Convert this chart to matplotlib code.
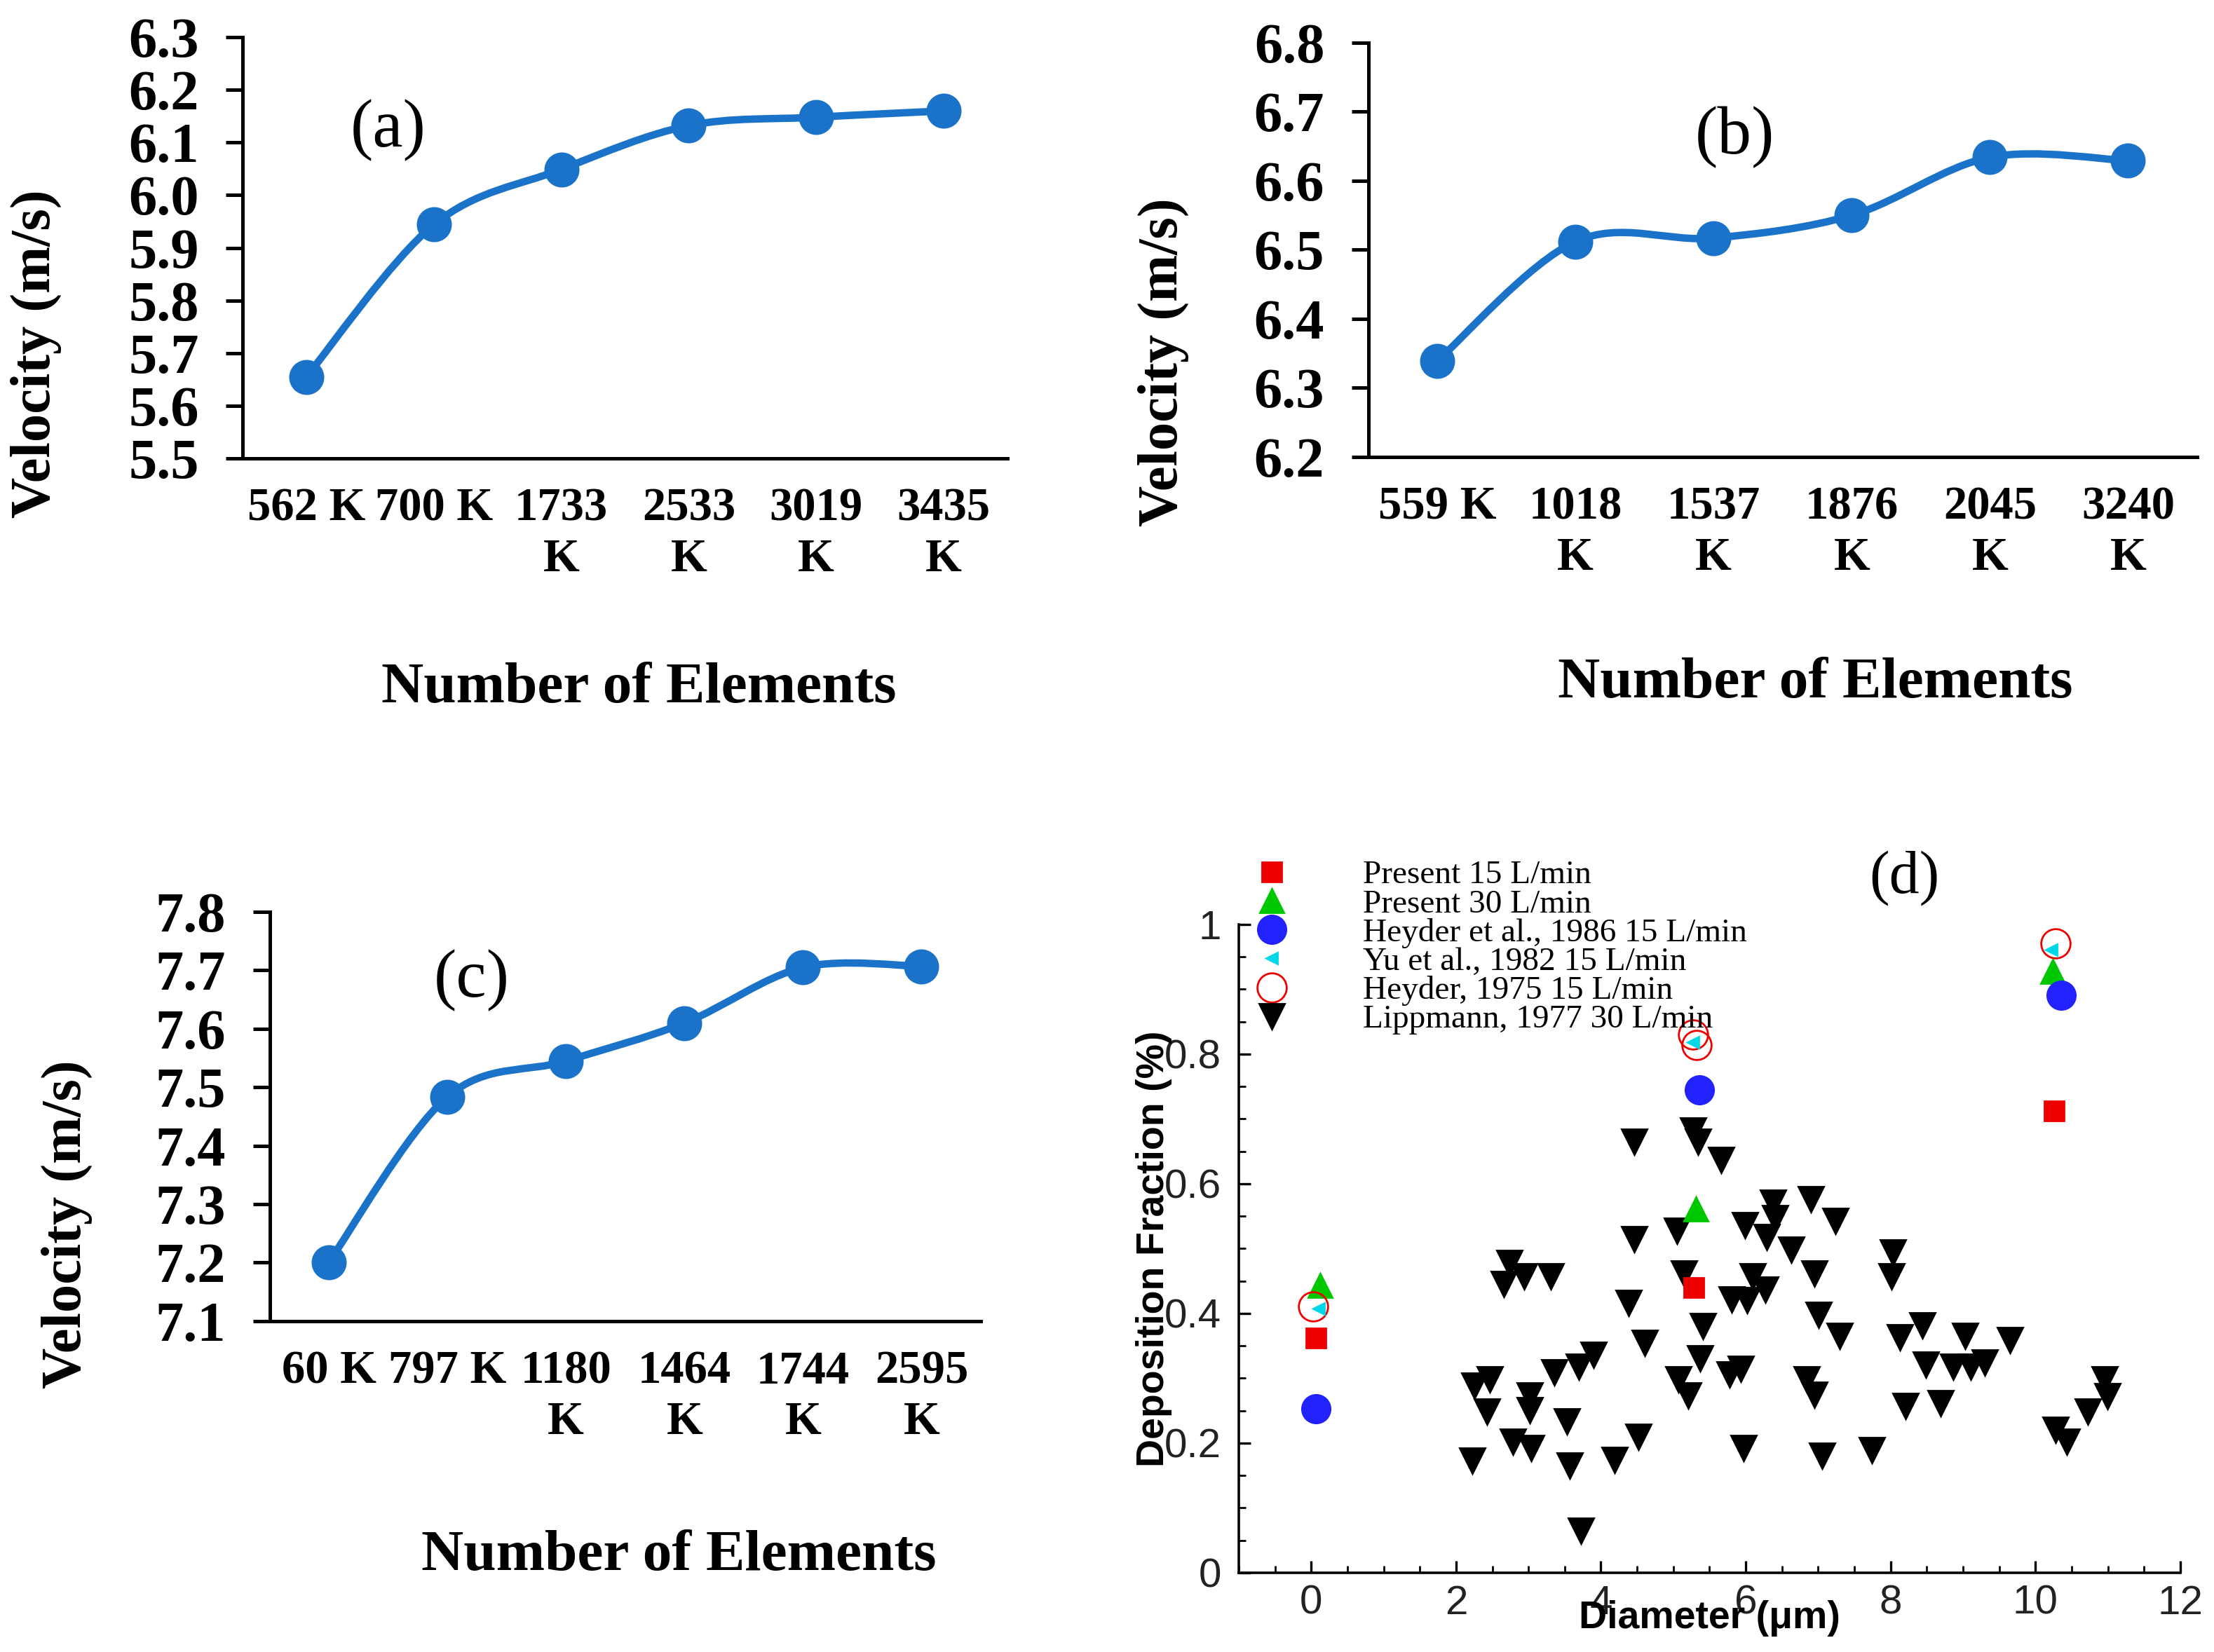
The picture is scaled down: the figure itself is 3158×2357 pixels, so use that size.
import numpy as np
import matplotlib
matplotlib.use('Agg')
import matplotlib.pyplot as plt
from matplotlib.path import Path
from matplotlib.patches import PathPatch
from matplotlib.ticker import MultipleLocator, FormatStrFormatter

# ---------------- data ----------------
labels_a = ['562 K', '700 K', '1733\nK', '2533\nK', '3019\nK', '3435\nK']
vel_a = [5.655, 5.944, 6.049, 6.132, 6.148, 6.160]

labels_b = ['559 K', '1018\nK', '1537\nK', '1876\nK', '2045\nK', '3240\nK']
vel_b = [6.339, 6.512, 6.517, 6.550, 6.634, 6.629]

labels_c = ['60 K', '797 K', '1180\nK', '1464\nK', '1744\nK', '2595\nK']
vel_c = [7.201, 7.484, 7.545, 7.610, 7.705, 7.707]

# panel (d)
present15_x = [0.07, 5.28, 10.26]
present15_y = [0.362, 0.440, 0.712]
present30_x = [0.12, 5.31, 10.24]
present30_y = [0.443, 0.561, 0.928]
heyder86_x = [0.07, 5.36, 10.35]
heyder86_y = [0.253, 0.745, 0.891]
yu82_x = [0.10, 5.27, 10.22]
yu82_y = [0.407, 0.818, 0.961]
heyder75_x = [0.03, 5.27, 5.32, 10.28]
heyder75_y = [0.411, 0.830, 0.814, 0.971]
lipp_x = [2.22, 2.25, 2.47, 2.43, 2.66, 2.74, 2.94, 2.79, 3.02, 3.02, 3.04, 3.31,
          3.36, 3.53, 3.57, 3.70, 3.90, 3.72, 4.19, 4.38, 4.46, 4.46, 4.52, 4.61,
          5.05, 5.07, 5.15, 5.21, 5.27, 5.34, 5.41, 5.37, 5.66, 5.81, 5.78, 5.93,
          5.99, 6.02, 5.97, 6.10, 6.27, 6.29, 6.41, 6.38, 6.63, 6.90, 6.95, 6.84,
          6.95, 7.01, 7.05, 7.24, 7.30, 7.74, 8.03, 8.01, 8.13, 8.21, 8.44, 8.49,
          8.69, 8.86, 9.03, 9.11, 9.30, 9.65, 10.28, 10.43, 10.72, 10.95, 10.99]
lipp_y = [0.173, 0.288, 0.298, 0.249, 0.445, 0.478, 0.457, 0.202, 0.273, 0.251, 0.192, 0.457,
          0.309, 0.233, 0.165, 0.318, 0.336, 0.065, 0.174, 0.416, 0.665, 0.514, 0.210, 0.355,
          0.527, 0.298, 0.461, 0.273, 0.682, 0.665, 0.380, 0.331, 0.637, 0.422, 0.306, 0.314,
          0.536, 0.420, 0.192, 0.457, 0.437, 0.518, 0.547, 0.571, 0.498, 0.576, 0.461, 0.298,
          0.275, 0.398, 0.180, 0.543, 0.365, 0.189, 0.494, 0.457, 0.363, 0.257, 0.382, 0.321,
          0.261, 0.318, 0.365, 0.318, 0.324, 0.359, 0.220, 0.202, 0.249, 0.298, 0.272]

legend_labels = ['Present 15 L/min', 'Present 30 L/min', 'Heyder et al., 1986 15 L/min',
                 'Yu et al., 1982 15 L/min', 'Heyder, 1975 15 L/min', 'Lippmann, 1977 30 L/min']

# ---------------- style ----------------
BLUE = '#1A73C8'
SERIF = ['Liberation Serif', 'DejaVu Serif']
SANS = ['Liberation Sans', 'DejaVu Sans']

fig = plt.figure(figsize=(15.79, 11.785), dpi=200)


def smooth_path(x, y):
    x = np.asarray(x, float)
    y = np.asarray(y, float)
    n = len(x)
    verts = [(x[0], y[0])]
    codes = [Path.MOVETO]
    for i in range(n - 1):
        p0 = max(i - 1, 0)
        p3 = min(i + 2, n - 1)
        c1 = (x[i] + (x[i + 1] - x[p0]) / 6.0, y[i] + (y[i + 1] - y[p0]) / 6.0)
        c2 = (x[i + 1] - (x[p3] - x[i]) / 6.0, y[i + 1] - (y[p3] - y[i]) / 6.0)
        verts += [c1, c2, (x[i + 1], y[i + 1])]
        codes += [Path.CURVE4] * 3
    return Path(verts, codes)


def velocity_panel(rect, labels, vals, ylo, yhi, tag, tagpos, ylabpos, xlabpos):
    ax = fig.add_axes(rect)
    x = np.arange(len(vals))
    ax.add_patch(PathPatch(smooth_path(x, vals), fill=False, edgecolor=BLUE,
                           lw=3.8, capstyle='round', joinstyle='round', zorder=2))
    ax.plot(x, vals, 'o', color=BLUE, ms=17, zorder=3)
    ax.set_xlim(-0.5, len(vals) - 0.5)
    ax.set_ylim(ylo, yhi)
    ax.yaxis.set_major_locator(MultipleLocator(0.1))
    ax.yaxis.set_major_formatter(FormatStrFormatter('%.1f'))
    ax.set_xticks(x)
    ax.set_xticklabels(labels, fontfamily=SERIF, fontweight='bold', fontsize=24,
                       linespacing=1.25)
    for t in ax.get_yticklabels():
        t.set_fontfamily(SERIF)
        t.set_fontweight('bold')
        t.set_fontsize(29)
    for s in ['top', 'right']:
        ax.spines[s].set_visible(False)
    for s in ['left', 'bottom']:
        ax.spines[s].set_linewidth(1.8)
    ax.tick_params(axis='y', direction='out', length=8.5, width=1.8, pad=14)
    ax.tick_params(axis='x', length=0, pad=15)
    ax.set_ylabel('Velocity (m/s)', fontfamily=SERIF, fontweight='bold', fontsize=29,
                  va='center', ha='center')
    ax.yaxis.set_label_coords(*ylabpos)
    ax.set_xlabel('Number of Elements', fontfamily=SERIF, fontweight='bold', fontsize=30,
                  va='center')
    ax.xaxis.set_label_coords(*xlabpos)
    ax.text(tagpos[0], tagpos[1], tag, transform=ax.transAxes, ha='center', va='center',
            fontfamily=SERIF, fontsize=35)
    return ax


velocity_panel([0.1096, 0.7225, 0.3454, 0.2550], labels_a, vel_a, 5.5, 6.3, '(a)',
               (0.19, 0.779), (-0.270, 0.248), (0.518, -0.547))
velocity_panel([0.618, 0.7234, 0.3744, 0.2508], labels_b, vel_b, 6.2, 6.8, '(b)',
               (0.442, 0.772), (-0.247, 0.228), (0.539, -0.548))
velocity_panel([0.1218, 0.2003, 0.3212, 0.2477], labels_c, vel_c, 7.1, 7.8, '(c)',
               (0.284, 0.832), (-0.285, 0.236), (0.575, -0.574))

# ---------------- panel (d) ----------------
axd = fig.add_axes([0.5595, 0.048, 0.4253, 0.3924])
axd.set_xlim(-1, 12)
axd.set_ylim(0, 1)

h_p15, = axd.plot(present15_x, present15_y, 's', color='#EE0000', ms=10, ls='none',
                  clip_on=False, zorder=3)
h_p30, = axd.plot(present30_x, present30_y, '^', color='#00C800', ms=12, ls='none',
                  clip_on=False, zorder=3)
h_h86, = axd.plot(heyder86_x, heyder86_y, 'o', color='#2222FF', ms=14.5, ls='none',
                  clip_on=False, zorder=3)
h_yu, = axd.plot(yu82_x, yu82_y, '<', color='#00D8E8', ms=6, ls='none',
                 clip_on=False, zorder=5)
h_h75, = axd.plot(heyder75_x, heyder75_y, 'o', mfc='none', mec='#EE0000', mew=1.0,
                  ms=15, ls='none', clip_on=False, zorder=4)
h_lip, = axd.plot(lipp_x, lipp_y, 'v', color='black', ms=13, ls='none',
                  clip_on=False, zorder=2)

for s in ['top', 'right']:
    axd.spines[s].set_visible(False)
for s in ['left', 'bottom']:
    axd.spines[s].set_linewidth(1.3)

axd.set_xticks([0, 2, 4, 6, 8, 10, 12])
axd.set_yticks([0, 0.2, 0.4, 0.6, 0.8, 1.0])
axd.set_yticklabels(['0', '0.2', '0.4', '0.6', '0.8', '1'])
axd.xaxis.set_minor_locator(MultipleLocator(0.5))
axd.yaxis.set_minor_locator(MultipleLocator(0.05))
axd.tick_params(which='major', direction='in', length=6, width=1.2, labelsize=21, pad=6,
                colors='black')
axd.tick_params(which='minor', direction='in', length=3.5, width=1.0)
axd.tick_params(axis='y', pad=9)
for t in axd.get_xticklabels() + axd.get_yticklabels():
    t.set_fontfamily(SANS)
    t.set_color('#222222')

axd.set_ylabel('Deposition Fraction (%)', fontfamily=SANS, fontweight='bold', fontsize=20,
               va='center')
axd.yaxis.set_label_coords(-0.09, 0.5)
axd.set_xlabel('Diameter (μm)', fontfamily=SANS, fontweight='bold', fontsize=20, va='center')
axd.xaxis.set_label_coords(0.50, -0.07)

axd.text(8.19, 1.072, '(d)', ha='center', va='center', fontfamily=SERIF, fontsize=31)

leg = axd.legend([h_p15, h_p30, h_h86, h_yu, h_h75, h_lip], legend_labels,
                 loc='upper left', bbox_to_anchor=(-0.814, 1.099),
                 bbox_transform=axd.transData, frameon=False, borderpad=0,
                 borderaxespad=0, handlelength=1.2, handletextpad=2.15,
                 labelspacing=-0.04, numpoints=1,
                 prop={'family': SERIF, 'size': 17})

fig.savefig('out.png', dpi=200)
